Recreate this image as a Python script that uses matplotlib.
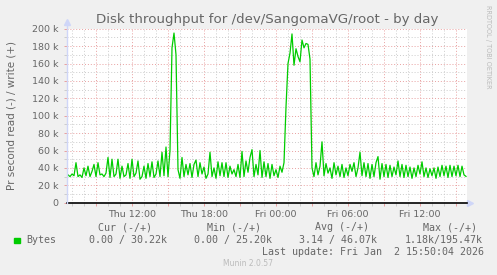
import numpy as np
import matplotlib
matplotlib.use("Agg")
import matplotlib.pyplot as plt
from matplotlib.patches import Rectangle

# Munin "diskstats" throughput, write side (+), in k bytes per second
# one sample every 10 minutes, first sample Thu 06:40
write_k = [
    # Thu 06:40 - 15:10
    32, 30, 33, 31, 46, 30, 32, 29, 40, 31,
    42, 30, 36, 44, 30, 46, 32, 33, 30, 34,
    52, 29, 50, 30, 33, 50, 28, 42, 30, 32,
    45, 28, 50, 30, 34, 48, 27, 30, 42, 28,
    45, 30, 47, 29, 33, 48, 30, 58, 31, 64,
    30, 60,
    # spike
    178, 195, 170,
    # Thu 15:40 - Fri 00:30
    38, 28, 52, 30, 44, 32, 45, 29, 44, 49,
    30, 46, 33, 41, 28, 33, 58, 30, 40, 28,
    47, 31, 46, 30, 46, 29, 42, 33, 38, 30,
    44, 29, 59, 30, 48, 35, 52, 61, 30, 44,
    32, 60, 29, 47, 30, 45, 28, 44, 31, 38,
    29, 42, 35, 46,
    # night plateau
    110, 160, 172, 194, 158, 177, 168, 162, 187, 178,
    183, 182, 165, 40,
    # Fri 02:50 - 15:30
    30, 46, 32, 42, 70, 31, 45, 34, 40, 28,
    46, 32, 42, 30, 44, 29, 40, 31, 44, 36,
    46, 30, 40, 58, 31, 46, 30, 45, 28, 44,
    30, 46, 53, 27, 45, 30, 44, 29, 43, 30,
    41, 32, 48, 30, 44, 29, 43, 30, 41, 28,
    40, 30, 43, 33, 47, 30, 40, 29, 39, 31,
    40, 28, 41, 30, 43, 31, 42, 29, 43, 30,
    42, 31, 43, 30, 42, 32, 30.22,
]
start_hour = 6 + 40 / 60   # hours since Thu 00:00
step_hour = 10 / 60

tick_hours = [12, 18, 24, 30, 36]
tick_labels = ["Thu 12:00", "Thu 18:00", "Fri 00:00", "Fri 06:00", "Fri 12:00"]

title = "Disk throughput for /dev/SangomaVG/root - by day"
ylabel = "Pr second read (-) / write (+)"
legend_heads = ["Cur (-/+)", "Min (-/+)", "Avg (-/+)", "Max (-/+)"]
legend_vals = ["0.00 / 30.22k", "0.00 / 25.20k", "3.14 / 46.07k", "1.18k/195.47k"]
last_update = "Last update: Fri Jan  2 15:50:04 2026"

W, H = 497, 275
FONT = "#666666"
AXIS = "#CFD6F8"
MGRID = "#E8A0A0"
GRID = "#CCCCCC"
GREEN = "#00CC00"

t = start_hour + step_hour * np.arange(len(write_k))


def fx(x):
    return x / W


def fy(y):
    return 1 - y / H


fig = plt.figure(figsize=(W / 100, H / 100), dpi=100, facecolor="#F0F0F0")
ax = fig.add_axes([fx(67), fy(202.7), 400 / W, 174 / H])
ax.set_facecolor("white")

t_left = 12 - 65 / 12
ax.set_xlim(t_left, t_left + 400 / 12)
ax.set_ylim(0, 200)

ax.plot(t, write_k, color=GREEN, lw=0.9, zorder=3)
ax.axhline(0, color="black", lw=1.2, zorder=4, clip_on=False)

# grid: minor every 10k / 1h in grey, major every 20k / 3h in red
ax.set_yticks(np.arange(0, 201, 20))
ax.set_yticks(np.arange(0, 201, 10), minor=True)
ax.set_yticklabels(["0"] + [f"{v} k" for v in range(20, 201, 20)])
major_x = np.arange(9, 40, 3)
ax.set_xticks(major_x)
ax.set_xticks(np.arange(7, 40, 1), minor=True)
ax.set_xticklabels([tick_labels[tick_hours.index(h)] if h in tick_hours else "" for h in major_x])
ax.grid(which="minor", color=GRID, lw=0.7, linestyle=(0, (1, 2)), zorder=1)
ax.grid(which="major", color=MGRID, lw=0.7, linestyle=(0, (1, 2)), zorder=2)
ax.tick_params(which="major", length=2, width=0.7, color=MGRID, labelsize=6.8,
               labelcolor=FONT, pad=3)
ax.tick_params(which="minor", length=2, width=0.7, color=GRID)
ax.tick_params(axis="y", pad=4)
for s in ax.spines.values():
    s.set_visible(False)

# axis line with arrows
ax.plot([0, 0], [0, 1.035], transform=ax.transAxes, color=AXIS, lw=1, clip_on=False, zorder=5)
ax.plot([0], [1.04], marker="^", ms=4, color=AXIS, transform=ax.transAxes, clip_on=False)
ax.plot([1.0, 1.006], [0, 0], transform=ax.transAxes, color=AXIS, lw=1, clip_on=False)
ax.plot([1.0085], [0], marker=">", ms=4, color=AXIS, transform=ax.transAxes, clip_on=False)

fig.text(fx(267), fy(19), title, ha="center", va="center", fontsize=9.6, color=FONT)
fig.text(fx(12), fy(115.7), ylabel, ha="center", va="center", rotation=90,
         fontsize=7.5, color=FONT)
fig.text(fx(488), fy(5), "RRDTOOL / TOBI OETIKER", ha="center", va="top", rotation=-90,
         fontsize=4.7, color="#BBBBBB")

mono = "DejaVu Sans Mono"
head_x = [98.3, 206.7, 315, 422.7]
val_x = [89.3, 194, 299.3, 404.3]
for x, s in zip(head_x, legend_heads):
    fig.text(fx(x), fy(227.3), s, ha="left", va="center", family=mono, fontsize=7.2, color=FONT)
for x, s in zip(val_x, legend_vals):
    fig.text(fx(x), fy(240), s, ha="left", va="center", family=mono, fontsize=7.2, color=FONT)
fig.text(fx(26.7), fy(240), "Bytes", ha="left", va="center", family=mono, fontsize=7.2, color=FONT)
fig.patches.append(Rectangle((fx(14), fy(242.7)), 6 / W, 5 / H, transform=fig.transFigure,
                             color=GREEN, figure=fig))
fig.text(fx(261.7), fy(251.7), last_update, ha="left", va="center", family=mono,
         fontsize=7.2, color=FONT)
fig.text(fx(248), fy(264), "Munin 2.0.57", ha="center", va="center", fontsize=5.5, color="#BBBBBB")

fig.savefig("out.png", dpi=100, facecolor=fig.get_facecolor())
